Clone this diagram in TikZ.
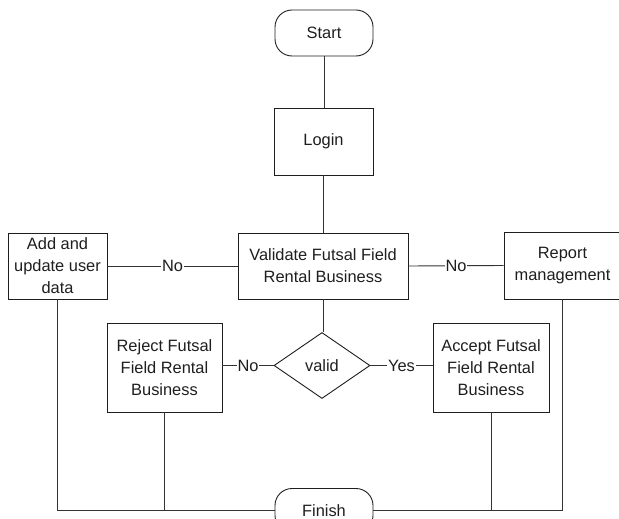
\documentclass[tikz,border=0pt]{standalone}
\usepackage{fontspec}
\setmainfont{Liberation Sans}
\usetikzlibrary{shapes.geometric}
\definecolor{ink}{HTML}{1E1E1E}
\definecolor{wire}{HTML}{333333}
\tikzset{
  base/.style={draw=ink, line width=0.9pt, inner sep=0pt, align=center,
    text=ink, font=\fontsize{16.4}{22}\selectfont},
  procbox/.style={base, rectangle},
  terminal/.style={base, rectangle, rounded corners=17pt,
    minimum width=98pt, minimum height=46pt},
  decision/.style={base, diamond, minimum width=96pt, minimum height=66pt},
  wirestyle/.style={draw=wire, line width=0.9pt},
  tag/.style={fill=white, inner sep=1pt, text=ink,
    font=\fontsize{16.4}{20}\selectfont}
}
\begin{document}
\begin{tikzpicture}[x=1pt, y=-1pt]
  \useasboundingbox (0,0) rectangle (619,519);
  \clip (0,0) rectangle (619,519);

  % flow nodes
  \node[terminal] (start) at (324,33) {Start};
  \node[procbox, minimum width=99pt, minimum height=67pt] (login) at (323.5,141.5) {Login};
  \node[procbox, minimum width=170pt, minimum height=66pt] (validate) at (323,266)
    {Validate Futsal Field\\Rental Business};
  \node[procbox, minimum width=99pt, minimum height=66pt] (add) at (57.5,266)
    {Add and\\update user\\data};
  \node[procbox, minimum width=117pt, minimum height=67pt] (report) at (562.5,265.5)
    {Report\\management};
  \node[decision] (valid) at (322,365.5) {valid};
  \node[procbox, minimum width=115pt, minimum height=89pt] (reject) at (164.5,367.5)
    {Reject Futsal\\Field Rental\\Business};
  \node[procbox, minimum width=116pt, minimum height=89pt] (accept) at (491,367.5)
    {Accept Futsal\\Field Rental\\Business};
  \node[terminal, minimum height=44pt] (finish) at (324,510.5) {Finish};

  % vertical flow
  \draw[wirestyle] (start.south) -- (start.south |- login.north);
  \draw[wirestyle] (login.south) -- (login.south |- validate.north);
  \draw[wirestyle] (validate.south) -- (validate.south |- valid.north);

  % branches
  \draw[wirestyle] (validate.west) -- node[tag] {No} (add.east);
  \draw[wirestyle] (validate.east) -- node[tag] {No} (report.west);
  \draw[wirestyle] (valid.west) -- node[tag] {No} (valid.west -| reject.east);
  \draw[wirestyle] (valid.east) -- node[tag] {Yes} (valid.east -| accept.west);

  % return lines to the finish terminal
  \draw[wirestyle] (add.south) |- (finish.west);
  \draw[wirestyle] (reject.south) -- (reject.south |- finish.west);
  \draw[wirestyle] (accept.south) -- (accept.south |- finish.east);
  \draw[wirestyle] (report.south) |- (finish.east);
\end{tikzpicture}
\end{document}
